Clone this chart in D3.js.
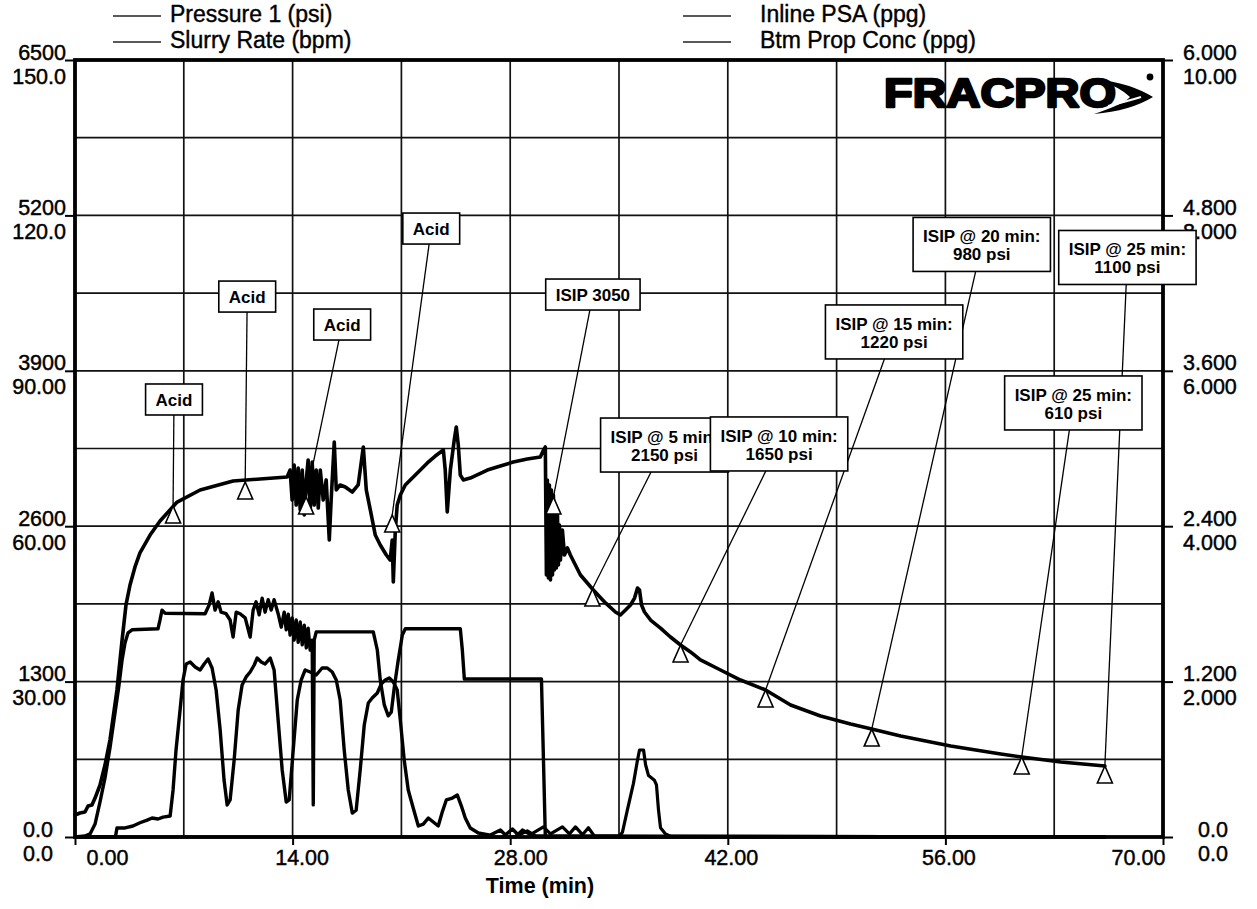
<!DOCTYPE html>
<html><head><meta charset="utf-8">
<script src="https://cdn.jsdelivr.net/npm/d3@7"></script>
<style>
html,body{margin:0;padding:0;background:#fff;}
svg{display:block;font-family:"Liberation Sans",Arial,Helvetica,sans-serif;}
</style></head><body>
<svg id="chart" width="1257" height="909"></svg>
<script>
// ---------------- DATA ----------------
const seriesNames = ["Pressure 1 (psi)", "Slurry Rate (bpm)", "Inline PSA (ppg)", "Btm Prop Conc (ppg)"];
const timeTicks = [0, 14, 28, 42, 56, 70];
const pressureTicks = [0, 1300, 2600, 3900, 5200, 6500];
const rateTicks = [0, 30, 60, 90, 120, 150];
const psaTicks = [0, 1.2, 2.4, 3.6, 4.8, 6];
const btmTicks = [0, 2, 4, 6, 8, 10];
const xTitle = "Time (min)";
const logoText = "FRACPRO";

// Pressure 1 (psi)
const pressureTime = [0.00,0.32,0.64,0.84,1.09,1.29,1.61,1.93,2.25,2.70,3.03,3.28,3.54,3.86,4.18,4.83,5.47,6.57,8.05,10.17,11.91,13.65,
 13.84,13.97,14.10,14.23,14.36,14.49,14.62,14.75,14.88,15.00,15.13,15.26,15.39,15.52,15.65,15.78,15.97,16.16,16.36,16.48,16.68,16.81,
 17.06,17.39,17.84,18.22,18.55,18.74,19.00,19.32,19.64,20.03,20.28,20.41,20.48,20.61,20.73,20.93,21.25,21.57,22.09,22.67,23.18,23.70,
 23.82,23.95,24.15,24.40,24.53,24.66,24.79,24.98,25.43,26.53,27.37,28.20,29.10,29.94,30.14,30.26,30.33,30.39,30.46,30.52,30.59,30.65,
 30.72,30.78,30.84,30.91,30.97,31.04,31.10,31.17,31.23,31.36,31.49,31.68,31.87,32.52,33.35,34.13,34.77,35.09,35.42,35.74,36.00,36.19,
 36.32,36.45,36.64,37.03,37.67,38.31,38.96,39.60,40.24,41.53,42.82,44.43,46.04,47.97,49.90,51.26,53.12,56.34,59.56,60.91,63.43,66.26];
const pressureValue = [184,201,209,259,268,326,435,602,811,1230,1648,1941,2108,2259,2376,2526,2643,2802,2903,2978,2995,3012,
 3070,2819,3112,2777,3087,2736,3070,2694,2987,3154,2719,3137,2777,3070,2752,3070,2819,2987,2485,2819,3304,2903,
 2945,2928,2886,2945,3263,2903,2736,2526,2443,2359,2317,2485,2133,2568,2777,2861,2945,2987,3053,3129,3187,3237,
 3070,2719,3070,3321,3430,3279,3028,2987,3003,3070,3104,3137,3162,3179,3237,3263,2192,2987,2167,2945,2150,2903,
 2192,2861,2234,2777,2250,2694,2276,2610,2317,2568,2359,2418,2359,2192,2066,1958,1882,1857,1899,1941,1999,2083,
 2066,1941,1882,1815,1748,1673,1606,1548,1481,1397,1313,1230,1104,1012,945,903,845,761,694,669,627,594];

// Slurry Rate (bpm)
const rateTime = [0.00,0.64,0.97,1.29,1.61,1.93,2.25,2.58,2.83,3.03,3.22,3.41,3.67,5.34,5.47,5.60,5.80,8.37,8.63,8.82,9.01,9.21,9.40,
 9.72,9.98,10.17,10.37,10.62,10.95,11.27,11.46,11.65,11.85,12.04,12.23,12.43,12.62,12.81,13.07,13.27,13.46,13.59,13.72,13.84,13.97,
 14.10,14.23,14.36,14.49,14.62,14.75,14.88,15.00,15.13,15.26,15.33,15.39,15.52,19.19,19.45,19.64,19.90,20.15,20.35,20.54,20.80,21.06,
 21.25,24.79,24.92,25.05,30.01,30.14,30.26,66.26];
const rateValue = [0,0.2,0.6,2.5,6.8,11.4,17.2,24.1,29.3,34.2,37.5,39.4,40.0,40.2,41.9,43.8,43.2,43.1,44.8,47.1,43.8,45.4,43.4,
 43.1,41.9,38.6,43.4,43.1,42.3,38.6,43.8,45.4,42.9,46.1,43.4,45.8,43.8,45.8,43.1,40.5,43.4,40.0,43.0,39.0,42.3,
 38.0,41.9,37.6,41.5,37.1,40.9,36.5,40.3,36.1,38.0,6.2,38.0,39.6,39.6,36.1,30.3,25.5,23.4,24.1,28.8,34.2,39.0,
 40.2,40.2,36.1,30.5,30.5,14.9,0,0];

// Inline PSA (ppg)
const psaTime = [0.00,2.60,2.70,3.22,3.73,4.18,4.64,4.96,5.34,5.67,6.12,6.31,6.50,6.76,6.95,7.15,7.41,7.73,8.05,8.31,8.56,8.82,9.08,
 9.34,9.59,9.79,9.98,10.24,10.50,10.75,11.01,11.27,11.53,11.72,11.98,12.23,12.56,12.81,13.07,13.33,13.59,13.78,14.04,14.30,14.55,14.81,
 15.13,15.52,15.90,16.23,16.55,16.81,17.06,17.32,17.58,17.84,18.09,18.35,18.61,18.87,19.12,19.45,19.70,19.96,20.22,20.48,20.73,20.93,
 21.18,21.44,21.76,22.09,22.41,22.73,23.05,23.37,23.63,23.89,24.28,24.60,24.86,25.11,25.43,25.95,26.72,27.37,27.69,28.14,28.53,29.10,
 29.62,31.55,66.26];
const psaValue = [0,0,0.07,0.07,0.085,0.11,0.13,0.147,0.139,0.154,0.162,0.363,0.672,0.981,1.212,1.336,1.351,1.313,1.290,1.336,1.375,1.305,1.135,
 0.826,0.440,0.247,0.286,0.595,0.981,1.174,1.236,1.274,1.328,1.382,1.351,1.336,1.382,1.290,0.903,0.518,0.270,0.286,0.672,1.058,1.212,1.290,
 1.274,1.251,1.305,1.305,1.274,1.212,1.058,0.672,0.363,0.185,0.208,0.518,0.865,1.035,1.073,1.112,1.181,1.212,1.228,1.197,1.135,0.903,
 0.595,0.363,0.224,0.085,0.100,0.147,0.116,0.085,0.193,0.286,0.301,0.324,0.239,0.147,0.070,0.031,0.015,0.054,0.015,0.062,0.015,0.046,
 0.008,0.008,0];

// Btm Prop Conc (ppg)
const btmTime = [0.00,28.33,28.78,29.30,30.14,30.59,31.36,31.81,32.20,32.65,33.03,33.42,35.03,35.22,35.54,35.93,36.19,36.32,36.58,36.71,
 36.90,37.28,37.41,37.54,37.67,37.99,38.31,66.26];
const btmValue = [0,0,0.09,0.03,0.13,0.04,0.13,0.04,0.13,0.03,0.12,0.01,0.01,0.06,0.35,0.69,0.99,1.12,1.12,0.93,
 0.79,0.73,0.67,0.35,0.12,0.04,0.01,0];

// Annotations: marker (time, psi on curve), label text, label centre (time, psi)
const markerTime = [6.31, 10.95, 14.87, 20.41, 30.78, 33.29, 38.96, 44.43, 51.26, 60.91, 66.26];
const markerPsi = [2769, 2970, 2844, 2694, 2844, 2075, 1606, 1230, 903, 669, 594];
const labelLines = [["Acid"], ["Acid"], ["Acid"], ["Acid"], ["ISIP 3050"], ["ISIP @ 5 min:", "2150 psi"],
  ["ISIP @ 10 min:", "1650 psi"], ["ISIP @ 15 min:", "1220 psi"], ["ISIP @ 20 min:", "980 psi"],
  ["ISIP @ 25 min:", "610 psi"], ["ISIP @ 25 min:", "1100 psi"]];
const labelTime = [6.37, 11.08, 17.19, 22.92, 33.32, 37.93, 45.30, 52.70, 58.34, 64.23, 67.71];
const labelPsi = [3660, 4521, 4287, 5090, 4538, 3279, 3288, 4225, 4957, 3631, 4848];

// ---------------- LAYOUT ----------------
const L = 75, R = 1163, T = 60, B = 837;
const svg = d3.select("#chart");
const x = d3.scaleLinear().domain([0, 70]).range([L, R]);
const yP = d3.scaleLinear().domain([0, 6500]).range([B, T]);
const yR = d3.scaleLinear().domain([0, 150]).range([B, T]);
const yPSA = d3.scaleLinear().domain([0, 6]).range([B, T]);
const yBtm = d3.scaleLinear().domain([0, 10]).range([B, T]);

// grid
const grid = svg.append("g").attr("stroke", "#111").attr("stroke-width", 1.7);
grid.selectAll("line.v").data(d3.range(7, 70, 7)).join("line")
  .attr("x1", d => x(d)).attr("x2", d => x(d)).attr("y1", T).attr("y2", B);
grid.selectAll("line.h").data(d3.range(650, 6500, 650)).join("line")
  .attr("x1", L).attr("x2", R).attr("y1", d => yP(d)).attr("y2", d => yP(d));

// curves
const mk = (ts, vs) => ts.map((t, i) => [t, vs[i]]);
function drawSeries(data, ys, w) {
  svg.append("path").datum(data)
    .attr("fill", "none").attr("stroke", "#000").attr("stroke-width", w)
    .attr("stroke-linejoin", "round").attr("stroke-linecap", "round")
    .attr("d", d3.line().x(d => x(d[0])).y(d => ys(d[1])));
}
drawSeries(mk(btmTime, btmValue), yBtm, 3.2);
drawSeries(mk(psaTime, psaValue), yPSA, 3.4);
drawSeries(mk(rateTime, rateValue), yR, 3.4);
drawSeries(mk(pressureTime, pressureValue), yP, 3.6);

// frame
svg.append("rect").attr("x", L).attr("y", T).attr("width", R - L).attr("height", B - T)
  .attr("fill", "none").attr("stroke", "#000").attr("stroke-width", 3.8);

// axes
const fmt4 = v => v === 0 ? "0.0" : d3.format(".4r")(v);
function styleAxis(g) {
  g.select(".domain").remove();
  g.selectAll(".tick line").attr("stroke", "#000").attr("stroke-width", 2);
  g.selectAll("text").attr("font-size", 21.5).attr("fill", "#000")
    .attr("stroke", "#000").attr("stroke-width", 0.45)
    .attr("font-family", '"Liberation Sans", Arial, sans-serif');
}
const gLP = svg.append("g").attr("transform", `translate(${L},0)`)
  .call(d3.axisLeft(yP).tickValues(pressureTicks).tickSize(10).tickFormat(fmt4)).call(styleAxis);
gLP.selectAll("text").attr("dy", 0).attr("y", -1).attr("x", d => d === 0 ? -22 : -9);
const gLR = svg.append("g").attr("transform", `translate(${L},0)`)
  .call(d3.axisLeft(yR).tickValues(rateTicks).tickSize(0).tickFormat(fmt4)).call(styleAxis);
gLR.selectAll("text").attr("dy", 0).attr("y", 23).attr("x", d => d === 0 ? -22 : -9);
const gRP = svg.append("g").attr("transform", `translate(${R},0)`)
  .call(d3.axisRight(yPSA).tickValues(psaTicks).tickSize(10).tickFormat(fmt4)).call(styleAxis);
gRP.selectAll("text").attr("dy", 0).attr("y", -1).attr("x", d => d === 0 ? 35 : 20);
const gRB = svg.append("g").attr("transform", `translate(${R},0)`)
  .call(d3.axisRight(yBtm).tickValues(btmTicks).tickSize(0).tickFormat(fmt4)).call(styleAxis);
gRB.selectAll("text").attr("dy", 0).attr("y", 23).attr("x", d => d === 0 ? 35 : 20);
const xLabelShift = [32, 9, 10, 3, 3, -25];
const gX = svg.append("g").attr("transform", `translate(0,${B})`)
  .call(d3.axisBottom(x).tickValues(timeTicks).tickSize(8).tickFormat(d3.format(".2f"))).call(styleAxis);
gX.selectAll("text").attr("dy", 0).attr("y", 28).attr("x", (d, i) => xLabelShift[i]);

svg.append("text").attr("x", 540).attr("y", 893).attr("text-anchor", "middle")
  .attr("font-size", 21.5).attr("font-weight", "bold").text(xTitle);

// legend
const legendPos = [[113, 170, 16, 22], [113, 170, 42, 48], [683, 760, 16, 22], [683, 760, 42, 48]];
seriesNames.forEach((name, i) => {
  const p = legendPos[i];
  svg.append("line").attr("x1", p[0]).attr("x2", p[0] + 48).attr("y1", p[2]).attr("y2", p[2])
    .attr("stroke", "#222").attr("stroke-width", 1.4);
  svg.append("text").attr("x", p[1]).attr("y", p[3])
    .attr("font-size", 23).attr("stroke", "#000").attr("stroke-width", 0.4).text(name);
});

// logo
svg.append("text").attr("x", 884).attr("y", 107).attr("font-size", 40).attr("font-weight", "bold")
  .attr("stroke", "#000").attr("stroke-width", 2.4).attr("stroke-linejoin", "round")
  .attr("textLength", 232).attr("lengthAdjust", "spacingAndGlyphs").text(logoText);
svg.append("path").attr("fill", "#000")
  .attr("d", "M1096,79 Q1130,83 1153,97 Q1130,111 1094,114 Q1124,104 1130,97 Q1120,87 1096,79 Z");
svg.append("path").attr("fill", "none").attr("stroke", "#fff").attr("stroke-width", 2.2)
  .attr("d", "M1108,106 Q1128,101 1141,97");
svg.append("circle").attr("cx", 1150).attr("cy", 77).attr("r", 3.4).attr("fill", "#000");

// annotations
const ann = svg.append("g");
labelLines.forEach((lines, i) => {
  const mx = x(markerTime[i]), my = yP(markerPsi[i]);
  const cx = x(labelTime[i]), cy = yP(labelPsi[i]);
  ann.append("line").attr("x1", cx).attr("y1", cy).attr("x2", mx).attr("y2", my)
    .attr("stroke", "#000").attr("stroke-width", 1.3);
});
labelLines.forEach((lines, i) => {
  const mx = x(markerTime[i]), my = yP(markerPsi[i]);
  ann.append("path").attr("d", `M${mx},${my} L${mx - 7.5},${my + 17} L${mx + 7.5},${my + 17} Z`)
    .attr("fill", "#fff").attr("stroke", "#000").attr("stroke-width", 1.6);
});
labelLines.forEach((lines, i) => {
  const cx = x(labelTime[i]), cy = yP(labelPsi[i]);
  const g = ann.append("g");
  const rect = g.append("rect").attr("fill", "#fff").attr("stroke", "#000").attr("stroke-width", 1.6);
  const texts = lines.map((s, j) => g.append("text").attr("x", cx).attr("text-anchor", "middle")
    .attr("font-size", 17).attr("font-weight", "bold")
    .attr("y", lines.length === 1 ? cy + 6.5 : (j === 0 ? cy - 2 : cy + 16)).text(s));
  const w = d3.max(texts, t => t.node().getComputedTextLength()) + 20;
  const h = lines.length === 1 ? 31 : 54;
  rect.attr("x", cx - w / 2).attr("y", cy - h / 2).attr("width", w).attr("height", h);
});
</script>
</body></html>
